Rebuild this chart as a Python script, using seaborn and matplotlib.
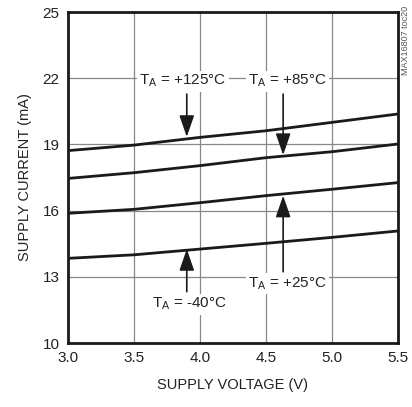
import matplotlib
matplotlib.use("Agg")
import matplotlib.pyplot as plt
import seaborn as sns
import pandas as pd

voltage = [3.0, 3.5, 4.0, 4.5, 5.0, 5.5]
i_125 = [18.72, 18.97, 19.32, 19.62, 20.00, 20.38]
i_85 = [17.46, 17.72, 18.04, 18.40, 18.67, 19.02]
i_25 = [15.88, 16.06, 16.36, 16.68, 16.97, 17.27]
i_m40 = [13.84, 14.00, 14.26, 14.52, 14.79, 15.08]

x_ticks = [3.0, 3.5, 4.0, 4.5, 5.0, 5.5]
y_ticks = [10, 13, 16, 19, 22, 25]

df = pd.DataFrame({
    "V": voltage * 4,
    "I": i_125 + i_85 + i_25 + i_m40,
    "T": ["125"] * 6 + ["85"] * 6 + ["25"] * 6 + ["-40"] * 6,
})

sns.set_theme(style="white")
plt.rcParams['font.family'] = ['Liberation Sans', 'DejaVu Sans']

fig = plt.figure(figsize=(4.12, 4.07), dpi=100)
ax = fig.add_axes([0.165, 0.157, 0.801, 0.8135])

sns.lineplot(data=df, x="V", y="I", units="T", estimator=None, color="#1a1a1a",
             linewidth=2.0, ax=ax, legend=False)

ax.set_xlim(3.0, 5.5)
ax.set_ylim(10, 25)
ax.set_xticks(x_ticks)
ax.set_xticklabels([f"{v:.1f}" for v in x_ticks])
ax.set_yticks(y_ticks)
ax.grid(True, color="#888888", linewidth=0.9)
ax.tick_params(length=0, labelsize=11, colors="#222222", pad=6)
for s in ax.spines.values():
    s.set_linewidth(2.0)
    s.set_color("#1a1a1a")
ax.set_xlabel("SUPPLY VOLTAGE (V)", fontsize=10.5, color="#222222", labelpad=9)
ax.set_ylabel("SUPPLY CURRENT (mA)", fontsize=10.5, color="#222222", labelpad=8)

labels = [
    ("T$_\\mathregular{A}$ = +125°C", 3.87, 21.87, 3.90, 21.28, 19.34),
    ("T$_\\mathregular{A}$ = +85°C", 4.66, 21.87, 4.63, 21.28, 18.52),
    ("T$_\\mathregular{A}$ = +25°C", 4.66, 12.71, 4.63, 13.23, 16.68),
    ("T$_\\mathregular{A}$ = -40°C", 3.92, 11.77, 3.90, 12.33, 14.26),
]
for txt, lx, ly, axx, tail, tip in labels:
    ax.text(lx, ly, txt, fontsize=11, ha="center", va="center", color="#222222",
            bbox=dict(facecolor="white", edgecolor="none", pad=1.5), zorder=5)
    ax.annotate("", xy=(axx, tip), xytext=(axx, tail),
                arrowprops=dict(arrowstyle="-|>,head_length=1.1,head_width=0.38",
                                color="#1a1a1a", lw=1.2, shrinkA=0, shrinkB=0), zorder=6)

fig.text(0.985, 0.985, "MAX16807 toc20", rotation=90, fontsize=6.5, color="#555555",
         ha="center", va="top")

fig.savefig("out.png", dpi=100)
